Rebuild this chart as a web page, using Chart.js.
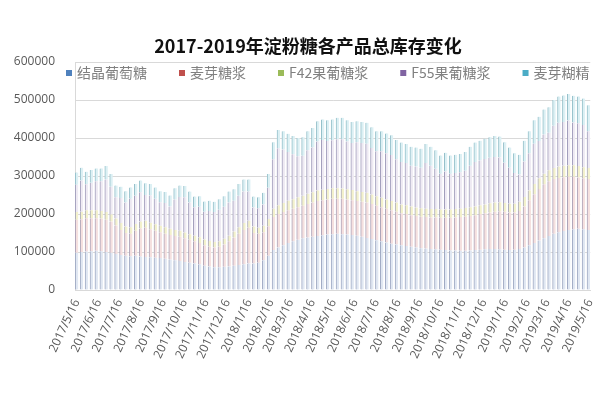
<!DOCTYPE html>
<html>
<head>
<meta charset="utf-8">
<title>2017-2019年淀粉糖各产品总库存变化</title>
<script src="https://cdn.jsdelivr.net/npm/chart.js@4.4.1/dist/chart.umd.min.js"></script>
<style>
    html, body { margin: 0; padding: 0; background: #fff; }
    canvas { display: block; }
</style>
</head>
<body>
<canvas id="stockChart" width="610" height="394"></canvas>
<script>
"use strict"

var chartTitle = '2017-2019年淀粉糖各产品总库存变化';

// weekly data, first week 2017/5/16
var firstWeek = Date.UTC(2017, 4, 16);
var weekCount = 105;

var seriesNames = ['结晶葡萄糖', '麦芽糖浆', 'F42果葡糖浆', 'F55果葡糖浆', '麦芽糊精'];

// inventory in tons, one value per week
var crystalGlucose = [
    98000, 100000, 101000, 102000, 103000, 102000, 100000, 98000, 95000,
    92000, 90000, 89000, 90000, 88000, 87000, 86000, 85000, 84000,
    82000, 80000, 78000, 76000, 74000, 72000, 70000, 68000,
    64000, 62000, 60000, 60000, 61000, 62000, 64000, 66000, 68000, 70000,
    70000, 72000, 78000, 90000,
    105000, 112000, 118000, 124000, 128000, 132000, 136000, 138000,
    140000, 142000, 144000, 146000, 147000, 148000, 147000, 146000, 145000,
    143000, 140000, 137000, 134000, 131000, 128000, 125000, 122000,
    120000, 118000, 116000, 114000, 112000, 110000, 109000, 108000, 107000, 106000,
    105000, 104000, 104000, 103000, 103000, 104000, 105000, 106000, 107000, 108000, 108000, 107000, 106000, 105000, 106000, 108000,
    112000, 118000, 124000, 130000, 136000, 142000, 148000, 152000, 155000, 158000, 160000, 161000, 160000, 158000
];
var maltoseSyrup = [
    87000, 86000, 88000, 87000, 86000, 86000, 85000, 82000, 75000,
    66000, 60000, 59000, 66000, 74000, 77000, 74000, 71000, 68000,
    66000, 65000, 64000, 64000, 62000, 60000, 58000, 56000,
    54000, 52000, 52000, 54000, 59000, 66000, 74000, 82000, 90000, 94000,
    80000, 76000, 74000, 78000,
    87000, 88000, 87000, 86000, 86000, 86000, 86000, 88000,
    90000, 92000, 92000, 92000, 93000, 92000, 93000, 92000, 91000,
    91000, 92000, 93000, 92000, 91000, 90000, 89000, 88000,
    86000, 84000, 84000, 83000, 83000, 83000, 83000, 83000, 84000, 84000,
    85000, 86000, 87000, 89000, 90000, 91000, 92000, 94000, 95000, 96000, 98000, 100000, 100000, 99000, 98000, 100000,
    108000, 118000, 128000, 136000, 142000, 144000, 144000, 143000, 142000, 140000, 138000, 135000, 134000, 134000
];
var f42Syrup = [
    20000, 20000, 21000, 21000, 21000, 20000, 20000, 19000, 18000,
    18000, 17000, 17000, 18000, 18000, 18000, 17000, 17000, 17000,
    17000, 16000, 16000, 16000, 15000, 15000, 15000, 15000,
    15000, 15000, 14000, 14000, 15000, 15000, 16000, 17000, 18000, 18000,
    17000, 16000, 17000, 19000,
    22000, 23000, 24000, 25000, 25000, 26000, 26000, 27000,
    27000, 28000, 28000, 28000, 28000, 28000, 27000, 27000, 27000,
    26000, 26000, 26000, 25000, 25000, 25000, 24000, 24000,
    24000, 23000, 23000, 23000, 22000, 22000, 22000, 22000, 22000, 22000,
    22000, 22000, 22000, 22000, 23000, 23000, 23000, 23000, 23000, 24000, 24000, 24000, 23000, 23000, 23000, 24000,
    25000, 26000, 27000, 28000, 28000, 29000, 29000, 30000, 30000, 30000, 30000, 30000, 29000, 29000
];
var f55Syrup = [
    72000, 82000, 68000, 72000, 76000, 78000, 86000, 73000, 56000,
    66000, 63000, 75000, 74000, 77000, 68000, 72000, 67000, 62000,
    64000, 59000, 80000, 89000, 93000, 83000, 75000, 80000,
    73000, 79000, 79000, 83000, 84000, 87000, 81000, 83000, 83000, 77000,
    50000, 51000, 56000, 82000,
    130000, 150000, 141000, 128000, 118000, 108000, 105000, 115000,
    118000, 129000, 131000, 126000, 126000, 129000, 130000, 126000, 124000,
    129000, 129000, 129000, 123000, 118000, 122000, 122000, 121000,
    114000, 112000, 111000, 107000, 108000, 107000, 120000, 114000, 106000, 94000,
    100000, 94000, 95000, 96000, 98000, 109000, 117000, 118000, 120000, 120000, 120000, 118000, 106000, 95000, 81000, 72000,
    93000, 98000, 106000, 98000, 103000, 99000, 111000, 115000, 115000, 118000, 113000, 113000, 111000, 97000
];
var maltodextrin = [
    32000, 34000, 33000, 34000, 34000, 34000, 35000, 33000, 31000,
    30000, 30000, 30000, 31000, 31000, 31000, 30000, 30000, 29000,
    29000, 29000, 30000, 30000, 30000, 29000, 28000, 28000,
    27000, 27000, 27000, 28000, 28000, 29000, 30000, 31000, 32000, 32000,
    29000, 29000, 31000, 36000,
    45000, 48000, 48000, 48000, 48000, 48000, 49000, 50000,
    51000, 53000, 54000, 55000, 55000, 56000, 56000, 56000, 55000,
    55000, 55000, 55000, 54000, 53000, 53000, 52000, 52000,
    51000, 51000, 50000, 50000, 50000, 50000, 50000, 50000, 49000, 48000,
    49000, 48000, 48000, 48000, 49000, 50000, 51000, 52000, 53000, 54000, 55000, 55000, 54000, 53000, 52000, 52000,
    55000, 58000, 62000, 64000, 66000, 67000, 68000, 69000, 70000, 70000, 70000, 70000, 70000, 68000
];

var monthLabels = [
    '2017/5/16', '2017/6/16', '2017/7/16', '2017/8/16', '2017/9/16', '2017/10/16',
    '2017/11/16', '2017/12/16', '2018/1/16', '2018/2/16', '2018/3/16', '2018/4/16',
    '2018/5/16', '2018/6/16', '2018/7/16', '2018/8/16', '2018/9/16', '2018/10/16',
    '2018/11/16', '2018/12/16', '2019/1/16', '2019/2/16', '2019/3/16', '2019/4/16',
    '2019/5/16'
];

var legendColors = ['#4f81bd', '#c0504d', '#9bbb59', '#8064a2', '#4bacc6'];
var barFills = ['#e0e7f2', '#f5e0df', '#f3f1cc', '#eeeaf3', '#dcf0f4'];
var barLines = ['#a0aac4', '#ada3b8', '#adacba', '#a29ebc', '#95c0ca'];

var DAY = 86400000;

// x positions of the weeks, in days from the first week
var weekDays = [];
for (var i = 0; i < weekCount; i++) {
    weekDays.push(i * 7);
}

// tick positions for the month labels
var monthDays = monthLabels.map(function(label) {
    var p = label.split('/');
    return (Date.UTC(+p[0], +p[1] - 1, +p[2]) - firstWeek) / DAY;
});

var seriesValues = [crystalGlucose, maltoseSyrup, f42Syrup, f55Syrup, maltodextrin];

var datasets = seriesValues.map(function(values, k) {
    return {
        label: seriesNames[k],
        data: values,
        backgroundColor: barFills[k],
        borderColor: barLines[k],
        borderWidth: { left: 1, right: 0, top: 0, bottom: 0 },
        borderSkipped: false,
        barThickness: 3,
        legendColor: legendColors[k]
    };
});

// title + legend sit inside the plot like the excel original
var overlay = {
    id: 'overlay',
    beforeDraw: function(chart) {
        var ctx = chart.ctx;
        ctx.save();
        ctx.fillStyle = '#ffffff';
        ctx.fillRect(0, 0, chart.width, chart.height);
        ctx.restore();
    },
    afterDraw: function(chart) {
        var ctx = chart.ctx;
        ctx.save();
        ctx.fillStyle = '#111111';
        ctx.font = 'bold 18px "Noto Sans CJK SC", sans-serif';
        ctx.textAlign = 'center';
        ctx.textBaseline = 'middle';
        ctx.fillText(chartTitle, 308, 46);

        ctx.font = '14px "Noto Sans CJK SC", sans-serif';
        ctx.textAlign = 'left';
        var x = 66;
        chart.data.datasets.forEach(function(ds) {
            ctx.fillStyle = ds.legendColor;
            ctx.fillRect(x, 70, 6, 6);
            ctx.fillStyle = '#808080';
            ctx.fillText(ds.label, x + 11, 73);
            x += 11 + ctx.measureText(ds.label).width + 32;
        });
        ctx.restore();
    }
};

var tickFont = { family: '"Open Sans", "Noto Sans", sans-serif', size: 12 };

new Chart(document.getElementById('stockChart'), {
    type: 'bar',
    data: {
        labels: weekDays,
        datasets: datasets
    },
    options: {
        responsive: false,
        animation: false,
        devicePixelRatio: 1,
        layout: {
            padding: { top: 62, right: 13, bottom: 0, left: 0 }
        },
        plugins: {
            legend: { display: false },
            title: { display: false },
            tooltip: { enabled: false }
        },
        scales: {
            x: {
                type: 'linear',
                stacked: true,
                offset: false,
                min: -2.5,
                max: 730.5,
                grid: { display: false, drawTicks: false, offset: false },
                border: { display: true, color: '#d9d9d9' },
                afterBuildTicks: function(scale) {
                    scale.ticks = monthDays.map(function(d) { return { value: d }; });
                },
                ticks: {
                    autoSkip: false,
                    minRotation: 65,
                    maxRotation: 65,
                    padding: 7,
                    color: '#595959',
                    font: tickFont,
                    callback: function(value, index) {
                        return monthLabels[index];
                    }
                },
                afterFit: function(scale) {
                    scale.height = 104;
                }
            },
            y: {
                stacked: true,
                min: 0,
                max: 600000,
                grid: { color: '#d9d9d9', drawTicks: false },
                border: { display: true, color: '#d9d9d9' },
                ticks: {
                    stepSize: 100000,
                    padding: 20,
                    color: '#595959',
                    font: tickFont,
                    callback: function(value) {
                        return String(value);
                    }
                },
                afterFit: function(scale) {
                    scale.width = 75;
                }
            }
        }
    },
    plugins: [overlay]
});
</script>
</body>
</html>
